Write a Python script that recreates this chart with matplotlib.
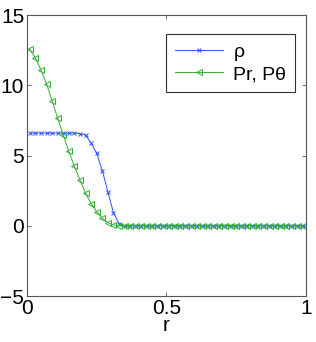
import numpy as np
import matplotlib.pyplot as plt

plt.rcParams['font.family'] = ['Liberation Sans', 'DejaVu Sans']

# radial grid, 50 cells
r = np.arange(50) * 0.02 + 0.01

rho_head = [6.6, 6.6, 6.6, 6.6, 6.6, 6.6, 6.6, 6.6, 6.6, 6.56, 6.45, 5.88,
            5.15, 3.93, 2.42, 0.93, 0.15]
p_head = [12.55, 11.95, 11.1, 10.1, 8.9, 7.65, 6.45, 5.3, 4.22, 3.25, 2.32,
          1.58, 1.0, 0.53, 0.22, 0.06, 0.01]
rho = np.array(rho_head + [0.0] * (50 - len(rho_head)))
p = np.array(p_head + [0.0] * (50 - len(p_head)))

fig = plt.figure(figsize=(3.16, 3.42), dpi=100)
ax = fig.add_axes([0.0854, 0.1345, 0.8826, 0.8215])

ax.plot(r, rho, color='#3050ff', lw=0.7, marker='x', ms=3, mew=0.7,
        label=r'$\mathregular{\rho}$')
ax.plot(r, p, color='#30b030', lw=0.7, marker='<', ms=5, mew=0.7,
        mfc='none', label='Pr, P\u03b8')

ax.set_xlim(0, 1)
ax.set_ylim(-5, 15)
ax.set_xticks([0, 0.5, 1])
ax.set_xticklabels(['0', '0.5', '1'])
ax.set_yticks([-5, 0, 5, 10, 15])
ax.set_yticklabels(['\u22125', '0', '5', '10', '15'])
ax.tick_params(direction='in', top=True, right=True, labelsize=15,
               length=3, width=0.6, color='#555555', pad=2)
for s in ax.spines.values():
    s.set_color('#555555')
    s.set_linewidth(0.8)
ax.set_xlabel('r', fontsize=15, labelpad=-1)

leg = ax.legend(loc='upper right', bbox_to_anchor=(0.96, 0.932),
                borderaxespad=0, fontsize=14, fancybox=False,
                handlelength=2.5, handletextpad=0.5, borderpad=0.45,
                labelspacing=0.15, framealpha=1)
leg.get_frame().set_edgecolor('#333333')
leg.get_frame().set_linewidth(0.8)

fig.savefig('out.png', dpi=100)
